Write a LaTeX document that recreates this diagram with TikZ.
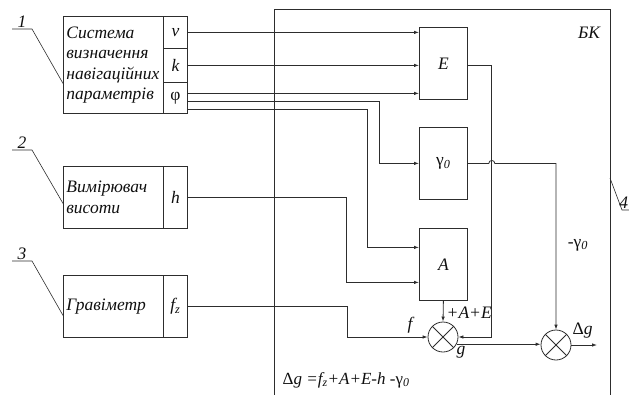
\documentclass[tikz,border=0pt]{standalone}
\usepackage{fontspec}
\setmainfont{Liberation Serif}
\usetikzlibrary{arrows.meta, positioning, calc}
\definecolor{wiregray}{RGB}{45, 45, 45}
\definecolor{labeltext}{RGB}{15, 15, 15}

\begin{document}
\begin{tikzpicture}[x=1pt, y=-1pt, line width=0.8pt,
    every node/.style={font=\fontsize{17.5}{20.5}\selectfont\itshape, text=labeltext},
    blk/.style={draw=wiregray, inner sep=3pt, anchor=north west, text width=94pt, align=left, minimum width=100pt},
    cell/.style={draw=wiregray, minimum width=24pt, inner sep=0pt, anchor=north west},
    unitbox/.style={draw=wiregray, minimum width=48pt, minimum height=72pt, anchor=north west},
    summ/.style={draw=wiregray, circle, minimum size=30pt, inner sep=0pt},
    wire/.style={draw=wiregray},
    arr/.style={draw=wiregray, -{Latex[length=5pt,width=3.5pt]}},
    lead/.style={draw=wiregray, line width=0.6pt}]
    \useasboundingbox (0,0) rectangle (629,394);

    % sources
    \node[blk, minimum height=97pt] (sys) at (63,16) {Система\\визначення\\навігаційних\\параметрів};
    \node[cell, minimum height=32pt] (v) at (163,16) {v};
    \node[cell, minimum height=34pt] (k) at (163,48) {k};
    \node[cell, minimum height=31pt] (phi) at (163,82) {\upshape φ};
    \node[blk, minimum height=62pt] (alt) at (63,166) {Вимірювач\\висоти};
    \node[cell, minimum height=62pt] (h) at (163,166) {h};
    \node[blk, minimum height=62pt] (grav) at (63,275) {Гравіметр};
    \node[cell, minimum height=62pt] (fz) at (163,275) {f\textsubscript{z}};

    % leaders
    \draw[lead] ([yshift=-18.5pt]sys.west) -- (32,29) -- (12,29) node[midway, above, inner sep=1pt] (n1) {1};
    \draw[lead] ([yshift=-6pt]alt.west) -- (32,150) -- (12,150) node[midway, above, inner sep=1pt] (n2) {2};
    \draw[lead] ([yshift=-9pt]grav.west) -- (32,261) -- (12,261) node[midway, above, inner sep=1pt] (n3) {3};

    % computing block
    \draw[wire] (274,400) -- (274,9) -- (610,9) -- (610,400);
    \node (bk) at (589,33) {БК};
    \draw[lead] (610,178) -- (622,210) -- (640,210);
    \node[anchor=south east, inner sep=0.5pt] (n4) at (629,209) {4};

    \node[unitbox] (E) at (419,27) {E};
    \node[unitbox] (G) at (419,127) {\upshape γ\textsubscript{\itshape 0}};
    \node[unitbox] (A) at (419,228) {A};
    \node[summ] (s1) at (443,337) {};
    \draw[wire] (s1.45) -- (s1.225) (s1.135) -- (s1.-45);
    \node[summ] (s2) at (556,345) {};
    \draw[wire] (s2.45) -- (s2.225) (s2.135) -- (s2.-45);
    \coordinate (out) at (597,345);

    % connections
    \draw[arr] (v.east) -- (v.east -| E.west);
    \draw[arr] (k.east) -- (k.east -| E.west);
    \draw[arr] ([yshift=4.5pt]phi.east) -- ([yshift=4.5pt]phi.east -| E.west);
    \draw[arr] ([yshift=-3.5pt]phi.east) -| ([xshift=-40pt]G.west) -- (G.west);
    \draw[arr] ([yshift=-11.5pt]phi.east) -| ([xshift=-52pt,yshift=17pt]A.west) -- ([yshift=17pt]A.west);
    \draw[arr] (h.east) -| ([xshift=-73pt,yshift=-18pt]A.west) -- ([yshift=-18pt]A.west);
    \draw[arr] (fz.east) -| ([xshift=-80pt]s1.west) -- (s1.west);
    \draw[arr] (A.south) -- (s1.north);
    \draw[arr] (E.east |- k.east) -- ++(24,0) |- (s1.east);
    \draw[arr] (G.east) -- ++(21,0) arc[start angle=180, end angle=0, radius=3pt] -| (s2.north);
    \draw[arr] (s1.-28) -- (s1.-28 -| s2.west);
    \draw[arr] (s2.east) -- (out);

    % labels
    \node (lf) at (410,325) {f};
    \node[anchor=west] (lae) at (443,313) {+A+E};
    \node (lg) at (461,352) {g};
    \node[anchor=west] (ldg) at (569,331) {\upshape Δ\itshape g};
    \node (lgam) at (578,245) {-\upshape γ\textsubscript{\itshape 0}};
    \node[anchor=west, font=\fontsize{17}{20}\selectfont\itshape] (formula) at (279,380)
        {\upshape Δ\itshape g =f\textsubscript{z}+A+E-h -\upshape γ\textsubscript{\itshape 0}};
\end{tikzpicture}
\end{document}
